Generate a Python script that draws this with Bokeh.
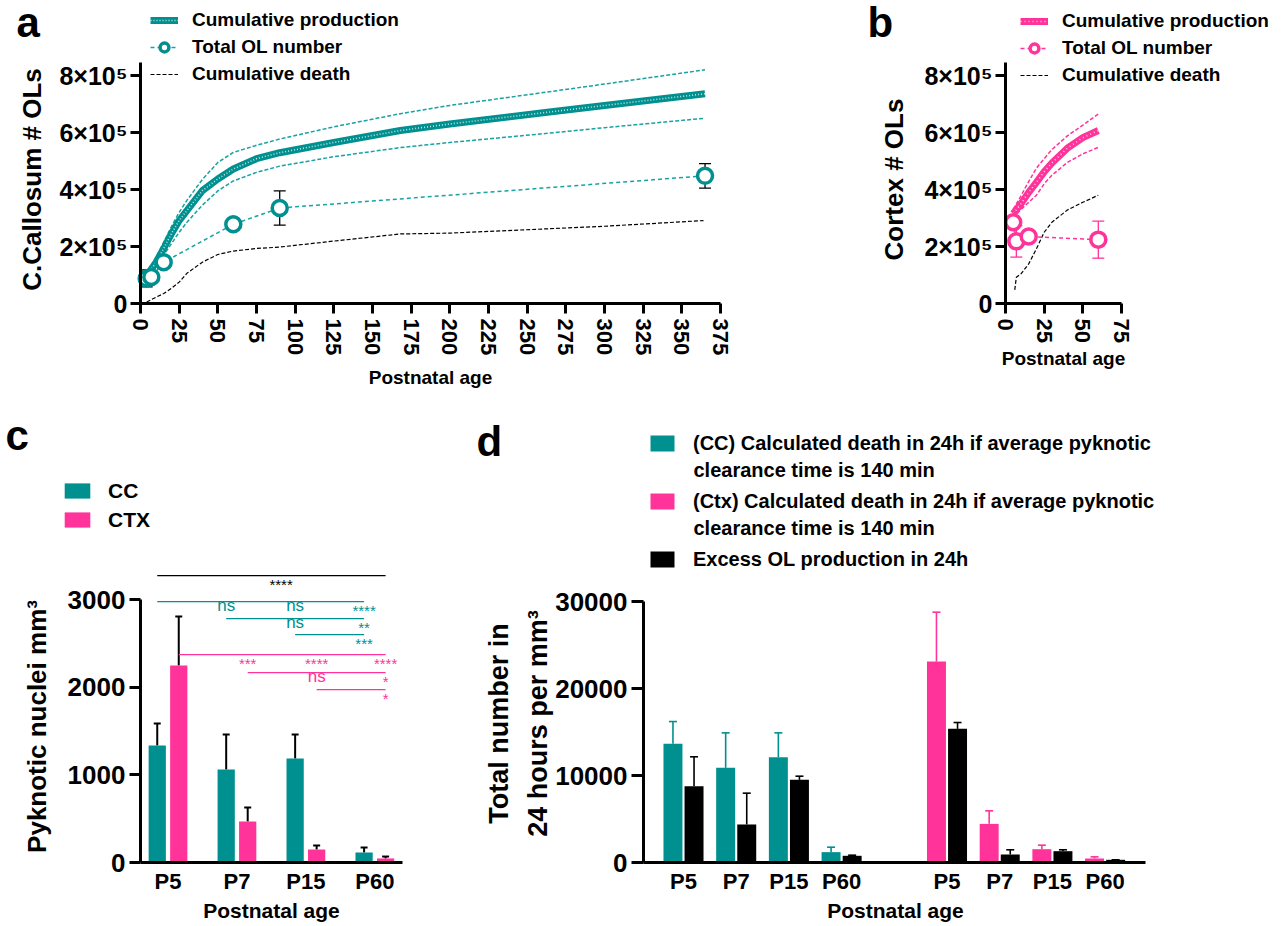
import math
from bokeh.plotting import figure
from bokeh.models import (Range1d, FixedTicker, Legend, LegendItem, Label,
                          Whisker, ColumnDataSource, TeeHead)
from bokeh.layouts import row, column
from bokeh.embed import file_html
from bokeh.resources import INLINE
from bokeh.core.properties import value

FONT = "Liberation Sans"
TEAL = "#00908F"
TEAL_LINE = "#17A3A1"
PINK = "#FF3399"

# ---------------- data ----------------
# panel a : corpus callosum
a_prod_days = [5, 10, 15, 20, 25, 30, 40, 50, 60, 75, 90, 125, 168, 200, 263, 300, 365]
a_prod = [105000, 144000, 193000, 245000, 291000, 326000, 396000, 437000, 472000,
          508000, 529000, 565000, 607000, 630000, 671000, 695000, 736000]
a_prod_upper = [115000, 160000, 215000, 270000, 320000, 362000, 435000, 495000, 530000,
                555000, 577000, 620000, 666000, 695000, 742000, 770000, 820000]
a_prod_lower = [95000, 130000, 170000, 210000, 250000, 285000, 345000, 395000, 430000,
                460000, 482000, 515000, 547000, 565000, 597000, 617000, 650000]
a_death_days = [4, 10, 15, 20, 25, 30, 40, 50, 60, 75, 90, 125, 168, 200, 263, 300, 364]
a_death = [5000, 22000, 35000, 53000, 75000, 106000, 145000, 172000, 184000, 193000,
           198000, 219000, 244000, 247000, 262000, 271000, 291000]
a_ol_days = [4, 7, 15, 60, 90, 365]
a_ol = [88000, 93000, 145000, 278000, 335000, 448000]
a_ol_err = [30000, 12000, 10000, 14000, 60000, 43000]

# panel b : cortex
b_prod_days = [5, 10, 15, 20, 25, 30, 40, 50, 60]
b_prod = [315000, 350000, 390000, 425000, 462000, 493000, 545000, 582000, 607000]
b_prod_upper = [330000, 378000, 428000, 475000, 508000, 540000, 588000, 626000, 665000]
b_prod_lower = [300000, 330000, 355000, 380000, 420000, 450000, 495000, 525000, 548000]
b_death_days = [6, 7, 10, 15, 20, 25, 30, 40, 50, 60]
b_death = [48000, 92000, 104000, 139000, 192000, 250000, 285000, 328000, 355000, 380000]
b_ol_days = [5, 7, 15, 60]
b_ol = [285000, 218000, 235000, 224000]
b_ol_err = [17000, 55000, 20000, 65000]

ol_yticks = [0, 200000, 400000, 600000, 800000]
ol_ytick_labels = ["0", "2×10⁵", "4×10⁵", "6×10⁵", "8×10⁵"]

# panel c : pyknotic nuclei
c_groups = ["P5", "P7", "P15", "P60"]
c_cc = [1334, 1060, 1186, 114]
c_cc_err = [251, 400, 274, 57]
c_ctx = [2246, 467, 148, 46]
c_ctx_err = [559, 160, 46, 22]
c_sig_all = "****"
c_sig_cc = [["ns", "ns", "****"], ["ns", "**"], ["***"]]
c_sig_ctx = [["***", "****", "****"], ["ns", "*"], ["*"]]
c_yticks = [0, 1000, 2000, 3000]

# panel d : 24h totals
d_groups = ["P5", "P7", "P15", "P60"]
d_cc_death = [13640, 10880, 12100, 1190]
d_cc_death_err = [2560, 4020, 2800, 570]
d_cc_excess = [8770, 4370, 9500, 770]
d_cc_excess_err = [3380, 3600, 420, 70]
d_ctx_death = [23100, 4440, 1530, 460]
d_ctx_death_err = [5670, 1500, 460, 190]
d_ctx_excess = [15360, 920, 1300, 310]
d_ctx_excess_err = [730, 540, 160, 0]
d_yticks = [0, 10000, 20000, 30000]
d_labels = ["(CC) Calculated death in 24h if average pyknotic",
            "(Ctx) Calculated death in 24h if average pyknotic",
            "Excess OL production in 24h"]
d_label_second = "clearance time is 140 min"


# ---------------- layout helpers ----------------
def full_fig(w, h, x_at0, px_per_x, y_at0, px_per_y):
    """Frame covers the whole canvas; x_at0/y_at0 = pixel (from top-left) of data 0."""
    xr = Range1d(-x_at0 / px_per_x, (w - x_at0) / px_per_x)
    yr = Range1d(-(h - y_at0) / px_per_y, y_at0 / px_per_y)
    p = figure(width=w, height=h, x_range=xr, y_range=yr,
               output_backend="svg", toolbar_location=None,
               min_border=0, min_border_left=0, min_border_right=0,
               min_border_top=0, min_border_bottom=0)
    p.outline_line_color = None
    p.xgrid.visible = False
    p.ygrid.visible = False
    p.background_fill_color = "white"
    p.border_fill_color = "white"
    for ax in (p.xaxis[0], p.yaxis[0]):
        ax.axis_line_width = 3
        ax.axis_line_color = "black"
        ax.major_tick_line_width = 3
        ax.major_tick_line_color = "black"
        ax.major_tick_in = 0
        ax.minor_tick_line_color = None
        ax.major_label_text_font = FONT
        ax.major_label_text_font_style = "bold"
        ax.major_label_text_color = "black"
    return p


def txt(p, text, x, y, size, angle=0.0, align="center", baseline="middle",
        color="black", style="bold"):
    """x, y in canvas pixels measured from the canvas' left and top edges."""
    p.add_layout(Label(x=x, y=p.height - y, x_units="screen", y_units="screen",
                       text=text, angle=angle, text_font=FONT, text_font_style=style,
                       text_font_size=size, text_align=align, text_baseline=baseline,
                       text_color=color))


def err_source(xs, ys, errs, two_sided=True):
    lower = [y - e for y, e in zip(ys, errs)] if two_sided else list(ys)
    upper = [y + e for y, e in zip(ys, errs)]
    return ColumnDataSource(dict(x=list(xs), lower=lower, upper=upper))


def make_legend(p, items, left, top, glyph_w, glyph_h, item_h, spacing, standoff, size):
    n = len(items)
    bottom = top + n * item_h + (n - 1) * spacing
    leg = Legend(items=items, location=(left, p.height - bottom), orientation="vertical",
                 glyph_width=glyph_w, glyph_height=glyph_h, label_height=glyph_h,
                 label_standoff=standoff, spacing=spacing, padding=0, margin=0,
                 border_line_color=None, background_fill_alpha=0,
                 label_text_font=FONT, label_text_font_style="bold",
                 label_text_font_size=size, label_text_color="black")
    p.add_layout(leg)


def ol_panel(p, prod_days, prod, up, lo, death_days, death, ol_days, ol, ol_err,
             color, band_color, ring_dash, err_col):
    p.line(prod_days, up, line_color=band_color, line_width=1.5, line_dash="4 2")
    p.line(prod_days, lo, line_color=band_color, line_width=1.5, line_dash="4 2")
    r_death = p.line(death_days, death, line_color="black", line_width=1.2, line_dash="4 2")
    r_p1 = p.line(prod_days, prod, line_color=color, line_width=7)
    r_p2 = p.line(prod_days, prod, line_color="white", line_width=1.6,
                  line_dash=ring_dash, line_alpha=0.75)
    r_ol = p.line(ol_days, ol, line_color=band_color, line_width=1.5, line_dash="4 3")
    p.add_layout(Whisker(source=err_source(ol_days, ol, ol_err), base="x",
                         upper="upper", lower="lower", line_color=err_col, line_width=1.3,
                         upper_head=TeeHead(size=12, line_color=err_col, line_width=1.3),
                         lower_head=TeeHead(size=12, line_color=err_col, line_width=1.3)))
    r_c = p.scatter(ol_days, ol, marker="circle", size=15, fill_color="white",
                    line_color=color, line_width=3.5)
    return r_p1, r_p2, r_ol, r_c, r_death


def ol_axes(p, xticks, xbound):
    p.xaxis.fixed_location = 0
    p.yaxis.fixed_location = 0
    p.xaxis.ticker = FixedTicker(ticks=xticks)
    p.xaxis.bounds = xbound
    p.xaxis.major_label_orientation = "vertical"
    p.xaxis.major_tick_out = 10
    p.xaxis.major_label_standoff = 5
    p.xaxis.major_label_text_font_size = "22px"
    p.yaxis.ticker = FixedTicker(ticks=ol_yticks)
    p.yaxis.major_label_overrides = {t: s for t, s in zip(ol_yticks, ol_ytick_labels)}
    p.yaxis.major_tick_out = 10
    p.yaxis.major_label_standoff = 3
    p.yaxis.major_label_text_font_size = "25px"
    p.yaxis.bounds = (0, 845000)


PX_DAY = 580 / 375          # pixels per day
PX_OL = 228 / 800000        # pixels per cell
TOP_H = 406
BOT_H = 518

# ---------------- panel a ----------------
pa = full_fig(860, TOP_H, 140, PX_DAY, 303, PX_OL)
ol_axes(pa, list(range(0, 376, 25)), (0, 375))
ra = ol_panel(pa, a_prod_days, a_prod, a_prod_upper, a_prod_lower, a_death_days, a_death,
              a_ol_days, a_ol, a_ol_err, TEAL, TEAL_LINE, "1 2", "black")
make_legend(pa, [LegendItem(label="Cumulative production", renderers=[ra[0], ra[1]]),
                 LegendItem(label="Total OL number", renderers=[ra[2], ra[3]]),
                 LegendItem(label="Cumulative death", renderers=[ra[4]])],
            150, 9, 28, 22, 22, 5, 14, "19px")
txt(pa, "C.Callosum # OLs", 31, 179, "26px", angle=math.pi / 2)
txt(pa, "Postnatal age", 430, 377, "19px")
txt(pa, "a", 16, 21.5, "42px", align="left")

# ---------------- panel b ----------------
pb = full_fig(420, TOP_H, 145, PX_DAY, 303, PX_OL)
ol_axes(pb, [0, 25, 50, 75], (0, 75))
rb = ol_panel(pb, b_prod_days, b_prod, b_prod_upper, b_prod_lower, b_death_days, b_death,
              b_ol_days, b_ol, b_ol_err, PINK, PINK, "1 3", PINK)
make_legend(pb, [LegendItem(label="Cumulative production", renderers=[rb[0], rb[1]]),
                 LegendItem(label="Total OL number", renderers=[rb[2], rb[3]]),
                 LegendItem(label="Cumulative death", renderers=[rb[4]])],
            160, 10, 28, 22, 22, 5, 14, "19px")
txt(pb, "Cortex # OLs", 33, 179, "26px", angle=math.pi / 2)
txt(pb, "Postnatal age", 203, 358, "19px")
txt(pb, "b", 7, 22, "42px", align="left")

# ---------------- panel c ----------------
PX_C = 263 / 3000
PX_CG = 262 / 3.8
pc = full_fig(470, BOT_H, 167.5, PX_CG, 456, PX_C)
idx = list(range(len(c_groups)))
c_off = 0.156
cc_x = [i - c_off for i in idx]
ctx_x = [i + c_off for i in idx]
r_cc = pc.vbar(x=cc_x, top=c_cc, width=0.25, fill_color=TEAL, line_color=None)
r_ctx = pc.vbar(x=ctx_x, top=c_ctx, width=0.25, fill_color=PINK, line_color=None)
for xs, ys, es in ((cc_x, c_cc, c_cc_err), (ctx_x, c_ctx, c_ctx_err)):
    pc.add_layout(Whisker(source=err_source(xs, ys, es, two_sided=False), base="x",
                          upper="upper", lower="lower", line_color="black", line_width=2,
                          upper_head=TeeHead(size=7, line_color="black", line_width=2),
                          lower_head=None, level="underlay"))
pc.xaxis.fixed_location = 0
pc.yaxis.fixed_location = -0.4
pc.xaxis.bounds = (-0.4, 3.4)
pc.xaxis.ticker = FixedTicker(ticks=idx)
pc.xaxis.major_label_overrides = {i: g for i, g in zip(idx, c_groups)}
pc.xaxis.major_tick_out = 0
pc.xaxis.major_tick_line_color = None
pc.xaxis.major_label_standoff = 6
pc.xaxis.major_label_text_font_size = "22px"
pc.yaxis.ticker = FixedTicker(ticks=c_yticks)
pc.yaxis.major_label_overrides = {t: str(t) for t in c_yticks}
pc.yaxis.major_tick_out = 11
pc.yaxis.major_label_standoff = 4
pc.yaxis.major_label_text_font_size = "26px"
pc.yaxis.bounds = (0, 3000)

# significance brackets (levels in data units of the y axis)
lvl_all = 3272
lvl_cc = [2976, 2782, 2600]
lvl_ctx = [2372, 2166, 1973]


def sig_text(p, xs, ys, texts, color):
    st = [(x, y, t) for x, y, t in zip(xs, ys, texts) if t != "ns"]
    ns = [(x, y) for x, y, t in zip(xs, ys, texts) if t == "ns"]
    if st:
        p.text(x=[s[0] for s in st], y=[s[1] for s in st], text=[s[2] for s in st],
               text_font=value(FONT), text_font_size="15px", text_align="center",
               text_baseline="middle", y_offset=9, text_color=color)
    if ns:
        p.text(x=[s[0] for s in ns], y=[s[1] for s in ns], text=["ns"] * len(ns),
               text_font=value(FONT), text_font_size="17px", text_align="center",
               text_baseline="middle", y_offset=4, text_color=color)


pc.segment(x0=[cc_x[0]], y0=[lvl_all], x1=[ctx_x[-1]], y1=[lvl_all],
           line_color="black", line_width=1.3)
sig_text(pc, [(cc_x[0] + ctx_x[-1]) / 2 + 0.14], [lvl_all], [c_sig_all], "black")
for xs, levels, sigs, col in ((cc_x, lvl_cc, c_sig_cc, TEAL), (ctx_x, lvl_ctx, c_sig_ctx, PINK)):
    for b, (lv, labels) in enumerate(zip(levels, sigs)):
        pc.segment(x0=[xs[b]], y0=[lv], x1=[xs[-1]], y1=[lv], line_color=col, line_width=1.3)
        targets = xs[b + 1:]
        sig_text(pc, targets, [lv] * len(targets), labels, col)

make_legend(pc, [LegendItem(label="CC", renderers=[r_cc]),
                 LegendItem(label="CTX", renderers=[r_ctx])],
            61, 72.5, 32, 19, 24, 5, 15, "21px")
txt(pc, "Pyknotic nuclei mm³", 36, 320, "26px", angle=math.pi / 2)
txt(pc, "Postnatal age", 271, 504, "21px")
txt(pc, "c", 5, 28.5, "42px", align="left")

# ---------------- panel d ----------------
PX_D = 261 / 30000
PX_DG = 52.7
pdd = full_fig(810, BOT_H, 213, PX_DG, 456, PX_D)
d_pos_cc = [0, 1, 2, 3]
d_pos_ctx = [5, 6, 7, 8]
d_off = 0.2
series = [
    ([p - d_off for p in d_pos_cc], d_cc_death, d_cc_death_err, TEAL),
    ([p + d_off for p in d_pos_cc], d_cc_excess, d_cc_excess_err, "black"),
    ([p - d_off for p in d_pos_ctx], d_ctx_death, d_ctx_death_err, PINK),
    ([p + d_off for p in d_pos_ctx], d_ctx_excess, d_ctx_excess_err, "black"),
]
d_rend = []
for xs, ys, es, col in series:
    d_rend.append(pdd.vbar(x=xs, top=ys, width=0.36, fill_color=col, line_color=None))
    pdd.add_layout(Whisker(source=err_source(xs, ys, es, two_sided=False), base="x",
                           upper="upper", lower="lower", line_color=col, line_width=1.6,
                           upper_head=TeeHead(size=8, line_color=col, line_width=1.6),
                           lower_head=None, level="underlay"))
d_left = -40 / PX_DG
pdd.xaxis.fixed_location = 0
pdd.yaxis.fixed_location = d_left
pdd.xaxis.bounds = (d_left, 8.767)
pdd.xaxis.ticker = FixedTicker(ticks=d_pos_cc + d_pos_ctx)
pdd.xaxis.major_label_overrides = {p: g for p, g in zip(d_pos_cc + d_pos_ctx, d_groups + d_groups)}
pdd.xaxis.major_tick_out = 0
pdd.xaxis.major_tick_line_color = None
pdd.xaxis.major_label_standoff = 6
pdd.xaxis.major_label_text_font_size = "22px"
pdd.yaxis.ticker = FixedTicker(ticks=d_yticks)
pdd.yaxis.major_label_overrides = {t: str(t) for t in d_yticks}
pdd.yaxis.major_tick_out = 12
pdd.yaxis.major_label_standoff = 4
pdd.yaxis.major_label_text_font_size = "26px"
pdd.yaxis.bounds = (0, 30000)

make_legend(pdd, [LegendItem(label=d_labels[0], renderers=[d_rend[0]]),
                  LegendItem(label=d_labels[1], renderers=[d_rend[2]]),
                  LegendItem(label=d_labels[2], renderers=[d_rend[1]])],
            177, 25.5, 30, 20, 23, 35, 16, "20px")
txt(pdd, d_label_second, 223, 63, "20px", align="left")
txt(pdd, d_label_second, 223, 121, "20px", align="left")
txt(pdd, "Total number in", 28, 317, "27px", angle=math.pi / 2)
txt(pdd, "24 hours per mm³", 67, 317, "27px", angle=math.pi / 2)
txt(pdd, "Postnatal age", 425, 504, "21px")
txt(pdd, "d", 6, 34.5, "42px", align="left")

layout = column(row(pa, pb), row(pc, pdd))
open("out.html", "w").write(file_html(layout, INLINE))
